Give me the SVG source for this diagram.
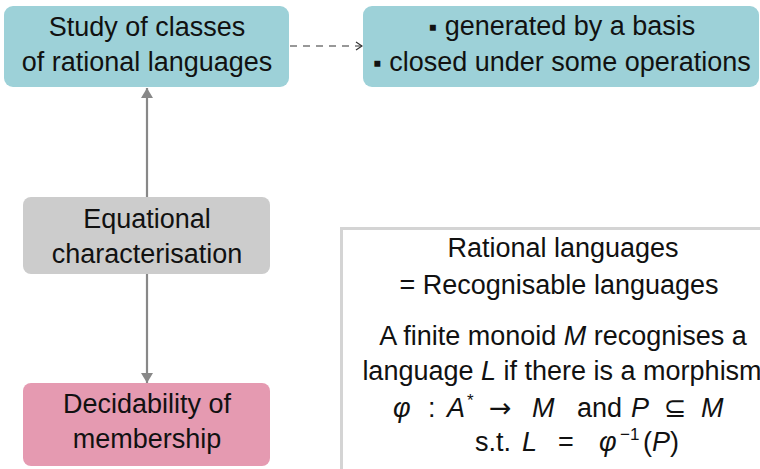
<svg xmlns="http://www.w3.org/2000/svg" width="760" height="469" viewBox="0 0 760 469">
<style>
text{font-family:"Liberation Sans",Arial,sans-serif;font-size:27px;fill:#111;text-anchor:middle}
text.s{text-anchor:start}
.m{font-style:italic}
.sym{font-family:"DejaVu Sans",sans-serif}
.sup{font-size:17px}
.b{font-size:24px}
.teal{fill:#9dd1d8}
.conn{stroke:#888;stroke-width:2.2;fill:none}
</style>
<defs>
<marker id="tri" viewBox="0 0 10 12" refX="10" refY="6" markerWidth="10" markerHeight="12" markerUnits="userSpaceOnUse" orient="auto">
<path d="M0,0 L10,6 L0,12 z" fill="#888"/>
</marker>
<marker id="open" viewBox="0 0 8 10" refX="7" refY="5" markerWidth="8" markerHeight="10" markerUnits="userSpaceOnUse" orient="auto">
<path d="M1,1 L7,5 L1,9" fill="none" stroke="#333" stroke-width="1.2"/>
</marker>
</defs>
<g id="connectors">
<line class="conn" x1="147" y1="197" x2="147" y2="88" marker-end="url(#tri)"/>
<line class="conn" x1="147" y1="274" x2="147" y2="383" marker-end="url(#tri)"/>
<line x1="290" y1="46" x2="362" y2="46" stroke="#333" stroke-width="1.2" stroke-dasharray="7,6" marker-end="url(#open)"/>
</g>
<g id="study">
<rect class="teal" x="4" y="6" width="285" height="81" rx="9"/>
<text x="147" y="36">Study of classes</text>
<text x="147" y="71">of rational languages</text>
</g>
<g id="props">
<rect class="teal" x="363" y="6" width="396" height="81" rx="9"/>
<text x="562" y="35"><tspan class="b">▪</tspan> generated by a basis</text>
<text x="562" y="71"><tspan class="b">▪</tspan> closed under some operations</text>
</g>
<g id="equational">
<rect x="23" y="197" width="247" height="77" rx="8" fill="#cccccc"/>
<text x="147" y="228">Equational</text>
<text x="147" y="263">characterisation</text>
</g>
<g id="decidability">
<rect x="23" y="383" width="247" height="83" rx="8" fill="#e59ab1"/>
<text x="147" y="413">Decidability of</text>
<text x="147" y="448">membership</text>
</g>
<g id="recognisable">
<path d="M341.5,469 V228.5 H760" fill="#fff" stroke="#d4d4d4" stroke-width="3"/>
<text x="563" y="257">Rational languages</text>
<text x="559" y="294">= Recognisable languages</text>
<text x="563" y="345">A finite monoid <tspan class="m">M</tspan> recognises a</text>
<text x="562" y="380">language <tspan class="m">L</tspan> if there is a morphism</text>
<text class="s" y="417"><tspan class="m" x="393">φ</tspan><tspan x="428">:</tspan><tspan class="m" x="447">A</tspan><tspan class="sup" x="467" dy="-11">*</tspan><tspan class="sym" x="489" dy="11">→</tspan><tspan class="m" x="532">M</tspan><tspan x="577">and</tspan><tspan class="m" x="631">P</tspan><tspan class="sym" x="664">⊆</tspan><tspan class="m" x="701">M</tspan></text>
<text class="s" y="451"><tspan x="475">s.t.</tspan><tspan class="m" x="522">L</tspan><tspan x="558">=</tspan><tspan class="m" x="599">φ</tspan><tspan class="sup" x="620" dy="-11">−1</tspan><tspan x="643" dy="11">(</tspan><tspan class="m" x="652">P</tspan><tspan x="670">)</tspan></text>
</g>
</svg>
